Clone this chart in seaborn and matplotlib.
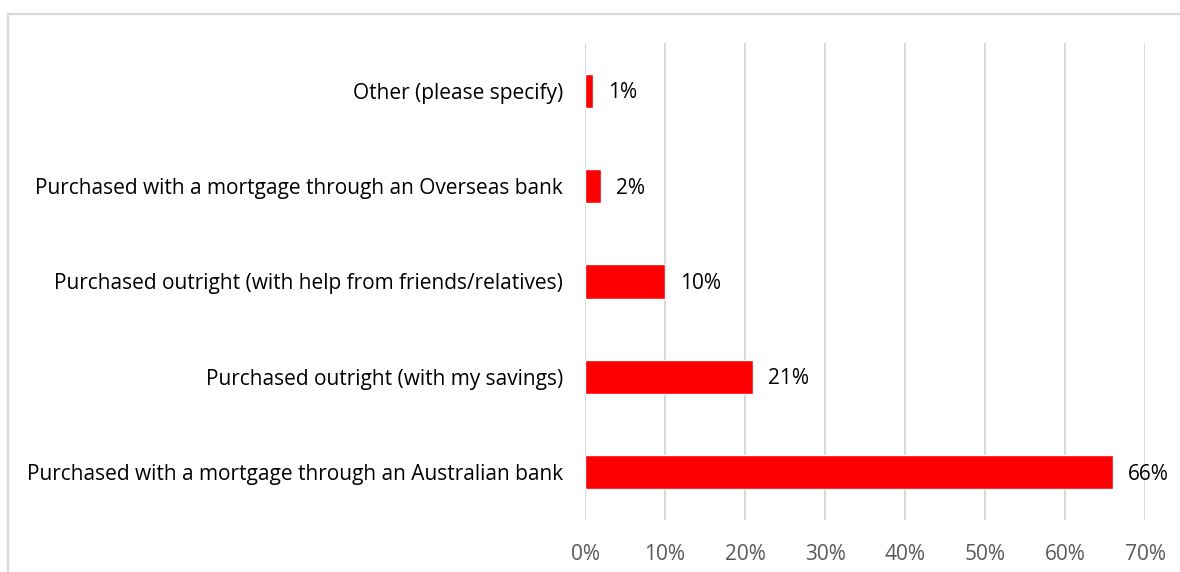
import matplotlib
matplotlib.use("Agg")
import matplotlib.pyplot as plt
from matplotlib.patches import Rectangle
from matplotlib.ticker import FuncFormatter
import seaborn as sns
import pandas as pd

categories = [
    "Other (please specify)",
    "Purchased with a mortgage through an Overseas bank",
    "Purchased outright (with help from friends/relatives)",
    "Purchased outright (with my savings)",
    "Purchased with a mortgage through an Australian bank",
]
shares = [1, 2, 10, 21, 66]
x_ticks = [0, 10, 20, 30, 40, 50, 60, 70]

df = pd.DataFrame({"method": categories, "share": shares})

sns.set_theme(style="white")
plt.rcParams["font.family"] = ["Open Sans", "DejaVu Sans"]

fig = plt.figure(figsize=(11.8, 5.72), dpi=100)
ax = fig.add_axes([585 / 1180, 1 - 520 / 572, 560 / 1180, 477 / 572])

sns.barplot(data=df, x="share", y="method", order=categories, color="#ff0000",
            width=0.36, saturation=1, ax=ax, zorder=3)

ax.set_xlim(0, 70)
ax.set_ylim(4.5, -0.5)
ax.set_xticks(x_ticks)
ax.xaxis.set_major_formatter(FuncFormatter(lambda v, p: f"{v:.0f}%"))
ax.grid(axis="x", color="#d9d9d9", linewidth=1.5, zorder=0)
ax.set_axisbelow(True)
for s in ax.spines.values():
    s.set_visible(False)
ax.set_xlabel("")
ax.set_ylabel("")
ax.tick_params(axis="x", length=0, pad=17, labelsize=15, labelcolor="#595959")
ax.tick_params(axis="y", length=0, pad=16, labelsize=15, labelcolor="#000000")

for bar, v in zip(ax.patches, shares):
    ax.annotate(f"{v:.0f}%", xy=(bar.get_width(), bar.get_y() + bar.get_height() / 2),
                xytext=(15, -2), textcoords="offset pixels",
                va="center", ha="left", fontsize=15, color="#000000")

# outer chart frame
fig.patches.append(Rectangle((8 / 1180, -0.05), 1.2, 1 - 14 / 572 + 0.05,
                             transform=fig.transFigure, fill=False,
                             edgecolor="#d9d9d9", linewidth=1.6))

fig.savefig("out.png", dpi=100)
